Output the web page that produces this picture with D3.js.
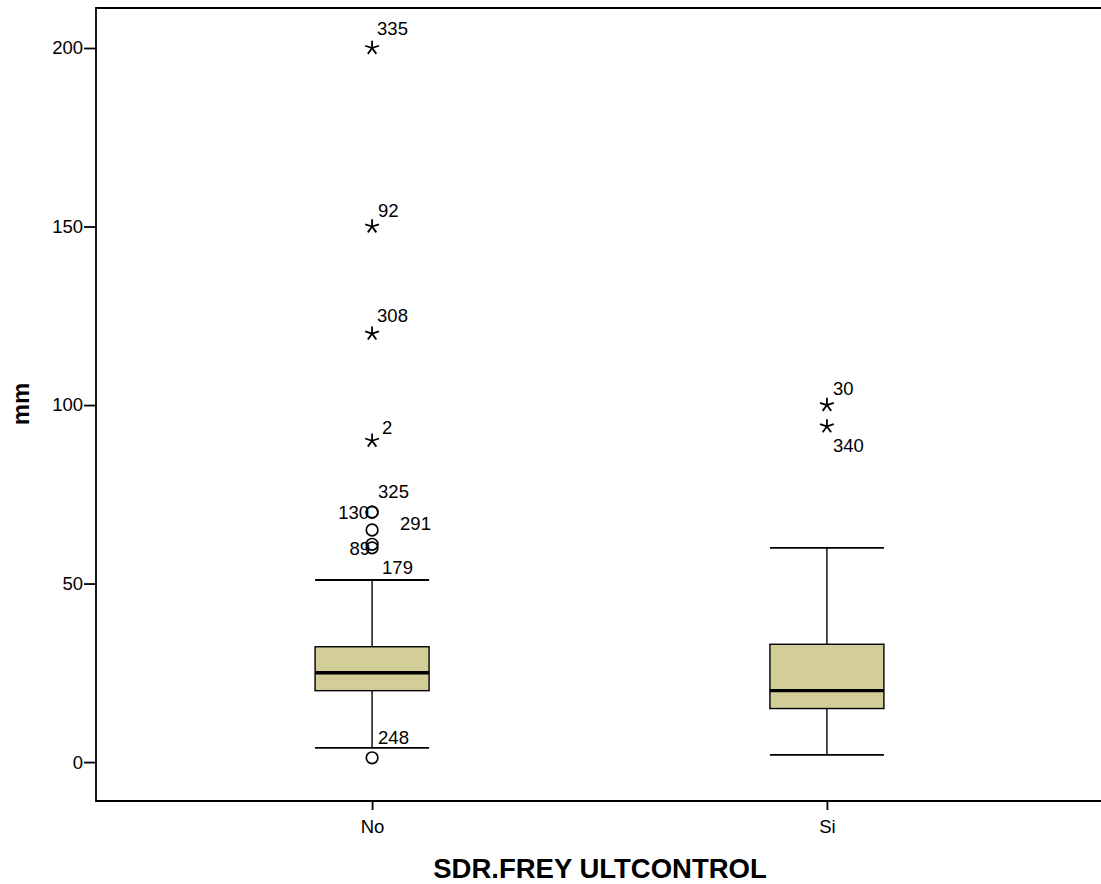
<!DOCTYPE html>
<html><head><meta charset="utf-8">
<script src="https://cdn.jsdelivr.net/npm/d3@7"></script>
<style>body{margin:0;background:#fff}svg{display:block}text{font-family:"Liberation Sans",Arial,sans-serif}</style>
</head><body><svg id="c" width="1101" height="884"></svg>
<script>
const categories = ["No","Si"];
const q1 = [20, 15];
const median = [25, 20];
const q3 = [32.3, 33];
const whiskerLow = [4, 2];
const whiskerHigh = [51, 60];
// outliers: [category, value, id]
const outliers = [["No",70,"130"],["No",70,"325"],["No",65,"291"],["No",61,"89"],["No",60,"179"],["No",1.2,"248"]];
const extremes = [["No",200,"335"],["No",150,"92"],["No",120,"308"],["No",90,"2"],["Si",100,"30"],["Si",94,"340"]];
const yTicks = [0,50,100,150,200];
// label placement style per id
const labelPos = {"335":[5,-13,"start"],"92":[6,-10,"start"],"308":[5,-12,"start"],"2":[10,-7,"start"],
 "30":[6,-10,"start"],"340":[6,26,"start"],"325":[6,-14,"start"],"130":[-3,7,"end"],"291":[28,0,"start"],
 "89":[-2,11,"end"],"179":[10,26,"start"],"248":[6,-14,"start"]};

const svg = d3.select("#c");
const L=96, T=8, R=1103, B=801;
const x = d3.scalePoint().domain(categories).range([L,R]).padding(0.607);
const y = d3.scaleLinear().domain([-10.9,211.2]).range([B,T]);
const boxW = 114, capW = 114;
const fs = 18.5;

// frame
svg.append("path").attr("d",`M${R},${T}H${L}V${B}H${R}`).attr("fill","none").attr("stroke","#000").attr("stroke-width",1.8);

// y axis
const ya = svg.append("g").attr("transform",`translate(${L},0)`).call(d3.axisLeft(y).tickValues(yTicks).tickSize(12).tickPadding(1));
ya.select(".domain").remove();
ya.selectAll("line").attr("stroke","#000").attr("stroke-width",1.8);
ya.selectAll("text").attr("font-size",fs).attr("fill","#000");
// x axis
const xa = svg.append("g").attr("transform",`translate(0,${B})`).call(d3.axisBottom(x).tickSize(9).tickPadding(10));
xa.select(".domain").remove();
xa.selectAll("line").attr("stroke","#000").attr("stroke-width",1.8);
xa.selectAll("text").attr("font-size",fs).attr("fill","#000");

// titles
svg.append("text").attr("x",600).attr("y",878).attr("text-anchor","middle").attr("font-size",27.5).attr("font-weight","bold").text("SDR.FREY ULTCONTROL");
svg.append("text").attr("transform","translate(29,404) rotate(-90)").attr("text-anchor","middle").attr("font-size",24).attr("font-weight","bold").text("mm");

// boxes
categories.forEach((c,i)=>{
  const cx = x(c);
  const g = svg.append("g");
  g.append("line").attr("x1",cx).attr("x2",cx).attr("y1",y(whiskerHigh[i])).attr("y2",y(q3[i])).attr("stroke","#000").attr("stroke-width",1.4);
  g.append("line").attr("x1",cx).attr("x2",cx).attr("y1",y(q1[i])).attr("y2",y(whiskerLow[i])).attr("stroke","#000").attr("stroke-width",1.4);
  g.append("line").attr("x1",cx-capW/2).attr("x2",cx+capW/2).attr("y1",y(whiskerHigh[i])).attr("y2",y(whiskerHigh[i])).attr("stroke","#000").attr("stroke-width",1.8);
  g.append("line").attr("x1",cx-capW/2).attr("x2",cx+capW/2).attr("y1",y(whiskerLow[i])).attr("y2",y(whiskerLow[i])).attr("stroke","#000").attr("stroke-width",1.8);
  g.append("rect").attr("x",cx-boxW/2).attr("width",boxW).attr("y",y(q3[i])).attr("height",y(q1[i])-y(q3[i]))
    .attr("fill","#d3ce98").attr("stroke","#000").attr("stroke-width",1.4);
  g.append("line").attr("x1",cx-boxW/2).attr("x2",cx+boxW/2).attr("y1",y(median[i])).attr("y2",y(median[i])).attr("stroke","#000").attr("stroke-width",3.4);
});

// outliers
svg.selectAll("circle.o").data(outliers).join("circle").attr("class","o")
  .attr("cx",d=>x(d[0])).attr("cy",d=>y(d[1])).attr("r",5.8).attr("fill","none").attr("stroke","#000").attr("stroke-width",1.7);
// extremes (5-armed asterisk)
const star5 = {draw(ctx,size){const r=Math.sqrt(size)/2;for(let k=0;k<5;k++){const a=-Math.PI/2+k*2*Math.PI/5;ctx.moveTo(0,0);ctx.lineTo(r*Math.cos(a),r*Math.sin(a));}}};
const star = d3.symbol().type(star5).size(210);
svg.selectAll("path.e").data(extremes).join("path").attr("class","e")
  .attr("transform",d=>`translate(${x(d[0])},${y(d[1])})`).attr("d",star).attr("fill","none").attr("stroke","#000").attr("stroke-width",1.8);

// labels
svg.selectAll("text.lab").data(outliers.concat(extremes)).join("text").attr("class","lab")
  .attr("x",d=>x(d[0])+labelPos[d[2]][0]).attr("y",d=>y(d[1])+labelPos[d[2]][1])
  .attr("text-anchor",d=>labelPos[d[2]][2]).attr("font-size",fs).attr("fill","#000").text(d=>d[2]);
</script></body></html>
